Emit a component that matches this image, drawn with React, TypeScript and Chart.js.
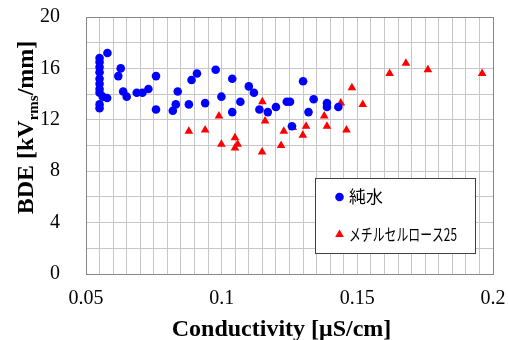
import { useEffect, useRef } from "react";
import { Chart, registerables } from "chart.js";

Chart.register(...registerables);

// 純水 (pure water): conductivity [μS/cm] and BDE [kVrms/mm]
const pureWaterX = [
  0.055, 0.055, 0.055, 0.055, 0.055, 0.055, 0.055, 0.055, 0.055, 0.055,
  0.0562, 0.0578, 0.0579, 0.0619, 0.0628, 0.0637, 0.065, 0.0687, 0.0708, 0.073,
  0.0758, 0.0758, 0.082, 0.0831, 0.0838, 0.0879, 0.0889, 0.0909, 0.0939, 0.0978,
  0.0999, 0.1039, 0.1039, 0.1069, 0.11, 0.1119, 0.1139, 0.117, 0.12, 0.124,
  0.1252, 0.1259, 0.13, 0.132, 0.1339, 0.1388, 0.1388, 0.143,
];
const pureWaterY = [
  16.8, 16.5, 16.1, 15.7, 15.2, 14.8, 14.4, 14.1, 13.2, 12.9,
  13.8, 13.7, 17.2, 15.4, 16.0, 14.2, 13.8, 14.1, 14.1, 14.4,
  15.4, 12.8, 12.7, 13.2, 14.2, 13.2, 15.1, 15.6, 13.3, 15.9,
  13.8, 15.2, 12.6, 13.4, 14.6, 14.1, 12.8, 12.6, 13.0, 13.4,
  13.4, 11.5, 15.0, 12.6, 13.6, 13.3, 13.0, 13.0,
];

// メチルセルロース25 (methyl cellulose 25)
const methylCelluloseX = [
  0.0879, 0.0939, 0.099, 0.0999, 0.1049, 0.1059, 0.1049, 0.115, 0.116, 0.1149,
  0.1219, 0.1229, 0.1262, 0.1299, 0.1311, 0.1378, 0.1388, 0.1439, 0.146, 0.148,
  0.152, 0.1619, 0.1679, 0.176, 0.196,
];
const methylCelluloseY = [
  11.1, 11.2, 12.3, 10.1, 10.6, 10.1, 9.8, 13.4, 11.9, 9.5,
  10.0, 11.1, 11.4, 10.8, 11.5, 12.3, 11.5, 13.3, 11.2, 14.5,
  13.2, 15.6, 16.4, 15.9, 15.6,
];

const seriesNames = ["純水", "メチルセルロース25"];
const xTickLabels = ["0.05", "0.1", "0.15", "0.2"];
const yTickLabels = ["0", "4", "8", "12", "16", "20"];
const xTitle = "Conductivity [μS/cm]";
const yTitleParts = ["BDE [kV", "rms", "/mm]"];

const SERIF = "'Liberation Serif', 'Times New Roman', serif";
const CJK = "'Noto Sans CJK JP', sans-serif";

const decorations = {
  id: "decorations",
  beforeDatasetsDraw(chart: any) {
    const { ctx, chartArea: a } = chart;
    ctx.save();
    ctx.strokeStyle = "#868686";
    ctx.lineWidth = 1;
    ctx.strokeRect(
      Math.round(a.left) + 0.5,
      Math.round(a.top) + 0.5,
      Math.round(a.right - a.left),
      Math.round(a.bottom - a.top)
    );
    ctx.restore();
  },
  afterDraw(chart: any) {
    const { ctx, chartArea: a } = chart;
    ctx.save();
    ctx.fillStyle = "#000";

    // x axis title
    ctx.font = `bold 24px ${SERIF}`;
    ctx.textAlign = "center";
    ctx.textBaseline = "alphabetic";
    ctx.fillText(xTitle, (a.left + a.right) / 2 - 8, 336);

    // y axis title with subscript, rotated
    ctx.save();
    ctx.translate(33, (a.top + a.bottom) / 2 - 18);
    ctx.rotate(-Math.PI / 2);
    const mainFont = `bold 24px ${SERIF}`;
    const subFont = `bold 15px ${SERIF}`;
    ctx.font = mainFont;
    const w0 = ctx.measureText(yTitleParts[0]).width;
    const w2 = ctx.measureText(yTitleParts[2]).width;
    ctx.font = subFont;
    const w1 = ctx.measureText(yTitleParts[1]).width;
    let x = -(w0 + w1 + w2) / 2;
    ctx.textAlign = "left";
    ctx.font = mainFont;
    ctx.fillText(yTitleParts[0], x, 0);
    x += w0;
    ctx.font = subFont;
    ctx.fillText(yTitleParts[1], x, 5);
    x += w1;
    ctx.font = mainFont;
    ctx.fillText(yTitleParts[2], x, 0);
    ctx.restore();

    // legend
    const lx = 315, ly = 178, lw = 160, lh = 75;
    ctx.fillStyle = "#fff";
    ctx.fillRect(lx, ly, lw, lh);
    ctx.strokeStyle = "#404040";
    ctx.lineWidth = 1;
    ctx.strokeRect(lx + 0.5, ly + 0.5, lw, lh);

    ctx.fillStyle = "#0000ff";
    ctx.beginPath();
    ctx.arc(339.5, 197, 4.3, 0, Math.PI * 2);
    ctx.fill();

    ctx.fillStyle = "#ff0000";
    const r = 5;
    const tx = 339.5, ty = 234.5;
    ctx.beginPath();
    ctx.moveTo(tx, ty - r);
    ctx.lineTo(tx + Math.sin((2 * Math.PI) / 3) * r, ty - Math.cos((2 * Math.PI) / 3) * r);
    ctx.lineTo(tx + Math.sin((4 * Math.PI) / 3) * r, ty - Math.cos((4 * Math.PI) / 3) * r);
    ctx.closePath();
    ctx.fill();

    ctx.fillStyle = "#000";
    ctx.textAlign = "left";
    ctx.textBaseline = "middle";
    ctx.font = `17px ${CJK}`;
    ctx.fillText(seriesNames[0], 349, 197);
    ctx.fillText(seriesNames[1], 349, 235, 108);

    ctx.restore();
  },
};

export default function App() {
  const canvasRef = useRef<HTMLCanvasElement | null>(null);

  useEffect(() => {
    const canvas = canvasRef.current;
    if (!canvas) return;

    const chart = new Chart(canvas, {
      type: "scatter",
      data: {
        datasets: [
          {
            label: seriesNames[0],
            data: pureWaterX.map((x, i) => ({ x, y: pureWaterY[i] })),
            pointStyle: "circle",
            pointRadius: 4.3,
            backgroundColor: "#0000ff",
            borderColor: "#0000ff",
            borderWidth: 0,
          },
          {
            label: seriesNames[1],
            data: methylCelluloseX.map((x, i) => ({ x, y: methylCelluloseY[i] })),
            pointStyle: "triangle",
            pointRadius: 5,
            backgroundColor: "#ff0000",
            borderColor: "#ff0000",
            borderWidth: 0,
          },
        ],
      },
      options: {
        responsive: false,
        animation: false,
        devicePixelRatio: 1,
        layout: { padding: { top: 17, right: 15, left: 0, bottom: 0 } },
        plugins: {
          legend: { display: false },
          tooltip: { enabled: false },
        },
        scales: {
          x: {
            type: "linear",
            min: 0.05,
            max: 0.2,
            border: { display: false },
            grid: { color: "#c6c6c6", lineWidth: 1, drawTicks: false },
            ticks: {
              stepSize: 0.005,
              autoSkip: false,
              maxRotation: 0,
              padding: 13,
              color: "#000",
              font: { family: SERIF, size: 20 },
              callback: (v: any) => {
                const s = String(Math.round(Number(v) * 1000) / 1000);
                return xTickLabels.includes(s) ? s : "";
              },
            },
            afterFit: (s: any) => {
              s.height = 66;
              s.paddingLeft = 0;
              s.paddingRight = 0;
            },
          },
          y: {
            type: "linear",
            min: 0,
            max: 20,
            border: { display: false },
            grid: { color: "#c6c6c6", lineWidth: 1, drawTicks: false },
            ticks: {
              stepSize: 2,
              autoSkip: false,
              padding: 26,
              color: "#000",
              font: { family: SERIF, size: 20 },
              callback: (v: any) => {
                const s = String(Math.round(Number(v)));
                return yTickLabels.includes(s) ? s : "";
              },
            },
            afterFit: (s: any) => {
              s.width = 86;
              s.paddingTop = 0;
              s.paddingBottom = 0;
            },
          },
        },
      },
      plugins: [decorations],
    });

    return () => chart.destroy();
  }, []);

  return (
    <div style={{ position: "absolute", left: 0, top: 0, width: 508, height: 340, background: "#fff" }}>
      <canvas ref={canvasRef} width={508} height={340} />
    </div>
  );
}
